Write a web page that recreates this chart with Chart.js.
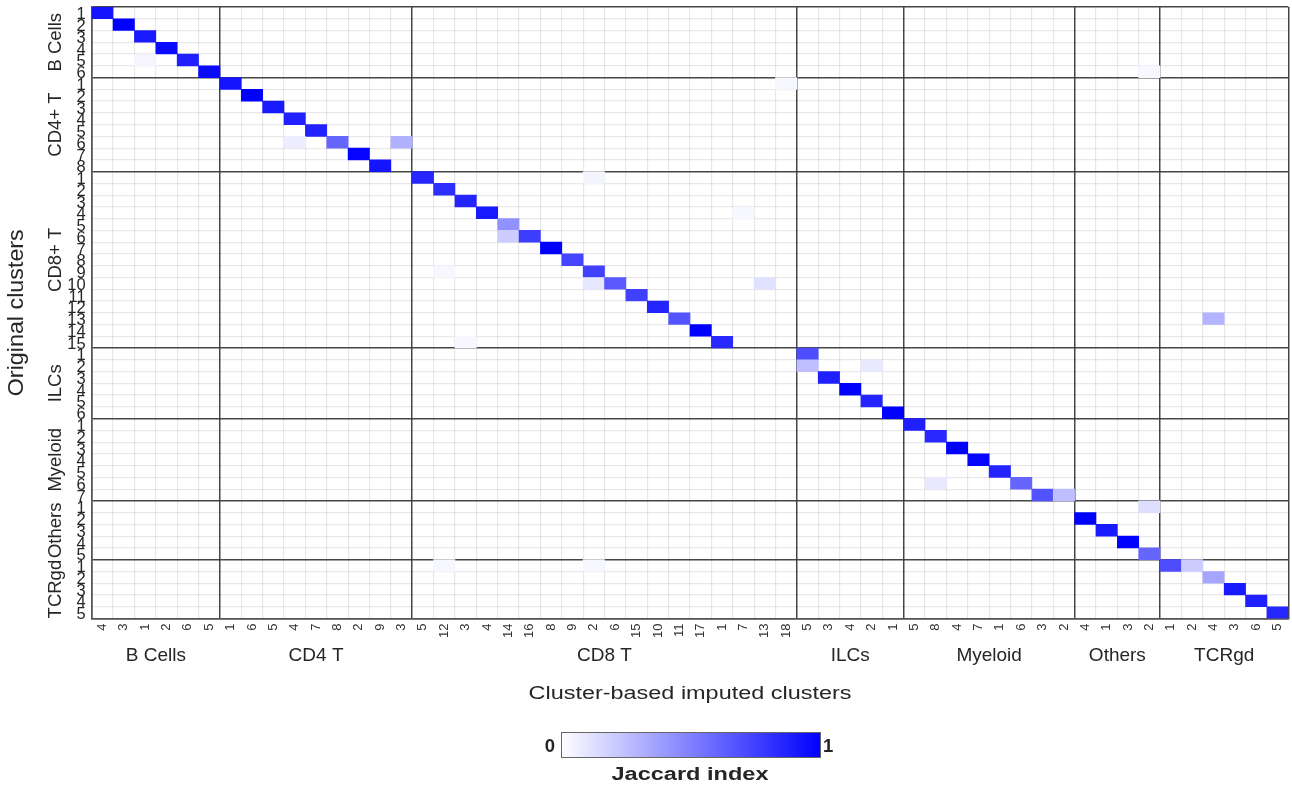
<!DOCTYPE html>
<html>
<head>
<meta charset="utf-8">
<title>Jaccard index heatmap</title>
<script src="https://cdn.jsdelivr.net/npm/chart.js@4.4.1/dist/chart.umd.min.js"></script>
<style>
  html, body { margin: 0; padding: 0; background: #fff; }
</style>
</head>
<body>
<canvas id="heatmap" width="1292" height="787"></canvas>
<script>
const FONT = '"Liberation Sans", Arial, Helvetica, sans-serif';

// original clusters (rows)
const rowGroups = ['B Cells', 'CD4+ T', 'CD8+ T', 'ILCs', 'Myeloid', 'Others', 'TCRgd'];
const rowCounts = [6, 8, 15, 6, 7, 5, 5];

// imputed clusters (columns), in display order
const colGroups = ['B Cells', 'CD4 T', 'CD8 T', 'ILCs', 'Myeloid', 'Others', 'TCRgd'];
const colTicks = [
  ['4', '3', '1', '2', '6', '5'],
  ['1', '6', '5', '4', '7', '8', '2', '9', '3'],
  ['5', '12', '3', '4', '14', '16', '8', '9', '2', '6', '15', '10', '11', '17', '1', '7', '13', '18'],
  ['5', '3', '4', '2', '1'],
  ['5', '8', '4', '7', '1', '6', '3', '2'],
  ['4', '1', '3', '2'],
  ['1', '2', '4', '3', '6', '5']
];

// [row group, row cluster, column group, column cluster, jaccard index]; empty cells are 0
const jaccard = [
  ['B Cells', 1, 'B Cells', '4', 0.92],
  ['B Cells', 2, 'B Cells', '3', 1.0],
  ['B Cells', 3, 'B Cells', '1', 0.9],
  ['B Cells', 4, 'B Cells', '2', 0.96],
  ['B Cells', 5, 'B Cells', '1', 0.04],
  ['B Cells', 5, 'B Cells', '6', 0.88],
  ['B Cells', 6, 'B Cells', '5', 0.96],
  ['B Cells', 6, 'Others', '2', 0.03],
  ['CD4+ T', 1, 'CD4 T', '1', 0.92],
  ['CD4+ T', 1, 'CD8 T', '18', 0.03],
  ['CD4+ T', 2, 'CD4 T', '6', 1.0],
  ['CD4+ T', 3, 'CD4 T', '5', 0.9],
  ['CD4+ T', 4, 'CD4 T', '4', 0.87],
  ['CD4+ T', 5, 'CD4 T', '7', 0.87],
  ['CD4+ T', 6, 'CD4 T', '4', 0.07],
  ['CD4+ T', 6, 'CD4 T', '8', 0.6],
  ['CD4+ T', 6, 'CD4 T', '3', 0.31],
  ['CD4+ T', 7, 'CD4 T', '2', 0.98],
  ['CD4+ T', 8, 'CD4 T', '9', 0.92],
  ['CD8+ T', 1, 'CD8 T', '5', 0.85],
  ['CD8+ T', 1, 'CD8 T', '2', 0.04],
  ['CD8+ T', 2, 'CD8 T', '12', 0.82],
  ['CD8+ T', 3, 'CD8 T', '3', 0.86],
  ['CD8+ T', 4, 'CD8 T', '4', 0.9],
  ['CD8+ T', 4, 'CD8 T', '7', 0.03],
  ['CD8+ T', 5, 'CD8 T', '14', 0.43],
  ['CD8+ T', 6, 'CD8 T', '14', 0.2],
  ['CD8+ T', 6, 'CD8 T', '16', 0.76],
  ['CD8+ T', 7, 'CD8 T', '8', 1.0],
  ['CD8+ T', 8, 'CD8 T', '9', 0.73],
  ['CD8+ T', 9, 'CD8 T', '12', 0.03],
  ['CD8+ T', 9, 'CD8 T', '2', 0.75],
  ['CD8+ T', 10, 'CD8 T', '2', 0.1],
  ['CD8+ T', 10, 'CD8 T', '6', 0.65],
  ['CD8+ T', 10, 'CD8 T', '13', 0.12],
  ['CD8+ T', 11, 'CD8 T', '15', 0.75],
  ['CD8+ T', 12, 'CD8 T', '10', 0.86],
  ['CD8+ T', 13, 'CD8 T', '11', 0.67],
  ['CD8+ T', 13, 'TCRgd', '4', 0.3],
  ['CD8+ T', 14, 'CD8 T', '17', 1.0],
  ['CD8+ T', 15, 'CD8 T', '3', 0.03],
  ['CD8+ T', 15, 'CD8 T', '1', 0.84],
  ['ILCs', 1, 'ILCs', '5', 0.7],
  ['ILCs', 2, 'ILCs', '5', 0.25],
  ['ILCs', 2, 'ILCs', '2', 0.09],
  ['ILCs', 3, 'ILCs', '3', 0.88],
  ['ILCs', 4, 'ILCs', '4', 1.0],
  ['ILCs', 5, 'ILCs', '2', 0.86],
  ['ILCs', 6, 'ILCs', '1', 1.0],
  ['Myeloid', 1, 'Myeloid', '5', 0.88],
  ['Myeloid', 2, 'Myeloid', '8', 0.84],
  ['Myeloid', 3, 'Myeloid', '4', 1.0],
  ['Myeloid', 4, 'Myeloid', '7', 0.98],
  ['Myeloid', 5, 'Myeloid', '1', 0.86],
  ['Myeloid', 6, 'Myeloid', '8', 0.09],
  ['Myeloid', 6, 'Myeloid', '6', 0.6],
  ['Myeloid', 7, 'Myeloid', '3', 0.68],
  ['Myeloid', 7, 'Myeloid', '2', 0.25],
  ['Others', 1, 'Others', '2', 0.13],
  ['Others', 2, 'Others', '4', 1.0],
  ['Others', 3, 'Others', '1', 0.9],
  ['Others', 4, 'Others', '3', 1.0],
  ['Others', 5, 'Others', '2', 0.6],
  ['TCRgd', 1, 'CD8 T', '12', 0.03],
  ['TCRgd', 1, 'CD8 T', '2', 0.03],
  ['TCRgd', 1, 'TCRgd', '1', 0.7],
  ['TCRgd', 1, 'TCRgd', '2', 0.2],
  ['TCRgd', 2, 'TCRgd', '4', 0.35],
  ['TCRgd', 3, 'TCRgd', '3', 0.9],
  ['TCRgd', 4, 'TCRgd', '6', 0.88],
  ['TCRgd', 5, 'TCRgd', '5', 0.85]
];

// where each group starts along the axes
const rowStart = [];
rowCounts.reduce((s, n, i) => (rowStart[i] = s, s + n), 0);
const nRows = rowCounts.reduce((a, b) => a + b, 0);
const colStart = [];
colTicks.reduce((s, t, i) => (colStart[i] = s, s + t.length), 0);
const xLabels = colTicks.flat();
const nCols = xLabels.length;
const rowLabels = rowCounts.flatMap(n => Array.from({ length: n }, (_, i) => String(i + 1)));

const rowBreaks = rowStart.concat(nRows);
const colBreaks = colStart.concat(nCols);

function blue(v) {
  const c = Math.round(255 * (1 - v));
  return `rgb(${c},${c},255)`;
}

const cells = jaccard.map(([rg, rn, cg, cl, v]) => {
  const r = rowStart[rowGroups.indexOf(rg)] + rn - 1;
  const gi = colGroups.indexOf(cg);
  const c = colStart[gi] + colTicks[gi].indexOf(cl);
  return { x: c + 0.5, y: [r, r + 1], v: v };
});

function drawText(ctx, text, x, y, o) {
  ctx.save();
  ctx.translate(x, y);
  if (o.rotate) ctx.rotate(o.rotate);
  ctx.font = (o.bold ? 'bold ' : '') + o.size + 'px ' + FONT;
  ctx.fillStyle = o.color || '#262626';
  ctx.textAlign = o.align || 'center';
  ctx.textBaseline = o.baseline || 'alphabetic';
  if (o.width) ctx.scale(o.width / ctx.measureText(text).width, 1);
  ctx.fillText(text, 0, 0);
  ctx.restore();
}

// group names, axis titles and the colour key
const annotations = {
  id: 'annotations',
  afterDraw(chart) {
    const ctx = chart.ctx;
    const xs = chart.scales.x, ys = chart.scales.y;

    rowGroups.forEach((g, i) => {
      const y0 = ys.getPixelForValue(rowStart[i]);
      const y1 = ys.getPixelForValue(rowStart[i] + rowCounts[i]);
      drawText(ctx, g, 61, (y0 + y1) / 2, { size: 18.5, rotate: -Math.PI / 2 });
    });
    drawText(ctx, 'Original clusters', 23, (chart.chartArea.top + chart.chartArea.bottom) / 2,
      { size: 22, rotate: -Math.PI / 2, width: 167 });

    colGroups.forEach((g, i) => {
      const x0 = xs.getPixelForValue(colStart[i]);
      const x1 = xs.getPixelForValue(colStart[i] + colTicks[i].length);
      drawText(ctx, g, (x0 + x1) / 2, 661, { size: 19 });
    });
    const mid = (chart.chartArea.left + chart.chartArea.right) / 2;
    drawText(ctx, 'Cluster-based imputed clusters', mid, 699, { size: 17.5, width: 323 });

    // colour key
    const kx = 561, ky = 732, kw = 260, kh = 26;
    const grad = ctx.createLinearGradient(kx, 0, kx + kw, 0);
    grad.addColorStop(0, blue(0));
    grad.addColorStop(1, blue(1));
    ctx.save();
    ctx.fillStyle = grad;
    ctx.fillRect(kx, ky, kw, kh);
    ctx.strokeStyle = '#666';
    ctx.lineWidth = 1;
    ctx.strokeRect(kx + 0.5, ky + 0.5, kw - 1, kh - 1);
    ctx.restore();
    drawText(ctx, '0', kx - 6, ky + kh / 2 + 6.5, { size: 18.5, bold: true, align: 'right' });
    drawText(ctx, '1', kx + kw + 2, ky + kh / 2 + 6.5, { size: 18.5, bold: true, align: 'left' });
    drawText(ctx, 'Jaccard index', mid, 780, { size: 18, bold: true, width: 157 });
  }
};

// light cell grid, darker lines between cell-type groups
const gridColor = breaks => ctx => {
  const i = ctx.index === undefined ? breaks[breaks.length - 1] : ctx.index;
  return breaks.includes(i) ? 'rgba(60,60,60,0.95)' : 'rgba(0,0,0,0.09)';
};
const gridWidth = breaks => ctx => {
  const i = ctx.index === undefined ? breaks[breaks.length - 1] : ctx.index;
  return breaks.includes(i) ? 1.5 : 1.2;
};

new Chart(document.getElementById('heatmap'), {
  type: 'bar',
  data: {
    datasets: [{
      data: cells,
      backgroundColor: ctx => blue(ctx.raw ? ctx.raw.v : 0),
      borderWidth: 0,
      barPercentage: 1,
      categoryPercentage: 1
    }]
  },
  options: {
    responsive: false,
    animation: false,
    devicePixelRatio: 1,
    layout: { padding: { top: 7, right: 3.7, bottom: 0, left: 0 } },
    plugins: {
      legend: { display: false },
      tooltip: { enabled: false }
    },
    scales: {
      x: {
        type: 'linear',
        offset: false,
        min: 0,
        max: nCols,
        afterBuildTicks: s => { s.ticks = xLabels.map((_, i) => ({ value: i + 0.5 })); },
        afterFit: s => { s.height = 168.5; s.paddingLeft = 0; s.paddingRight = 0; },
        ticks: {
          autoSkip: false,
          minRotation: 90,
          maxRotation: 90,
          padding: 5,
          color: '#333',
          font: { family: FONT, size: 13 },
          callback: (v, i) => xLabels[i]
        },
        grid: { offset: true, drawTicks: false, color: gridColor(colBreaks), lineWidth: gridWidth(colBreaks) },
        border: { color: '#555', width: 1.5 }
      },
      y: {
        type: 'linear',
        reverse: true,
        min: 0,
        max: nRows,
        afterBuildTicks: s => { s.ticks = rowLabels.map((_, i) => ({ value: i + 0.5 })); },
        afterFit: s => { s.width = 91.7; s.paddingTop = 0; s.paddingBottom = 0; },
        ticks: {
          autoSkip: false,
          padding: 6,
          labelOffset: 2,
          color: '#262626',
          font: { family: FONT, size: 16.5, lineHeight: 1 },
          callback: (v, i) => rowLabels[i]
        },
        grid: { offset: true, drawTicks: false, color: gridColor(rowBreaks), lineWidth: gridWidth(rowBreaks) },
        border: { color: '#555', width: 1.5 }
      }
    }
  },
  plugins: [annotations]
});
</script>
</body>
</html>
